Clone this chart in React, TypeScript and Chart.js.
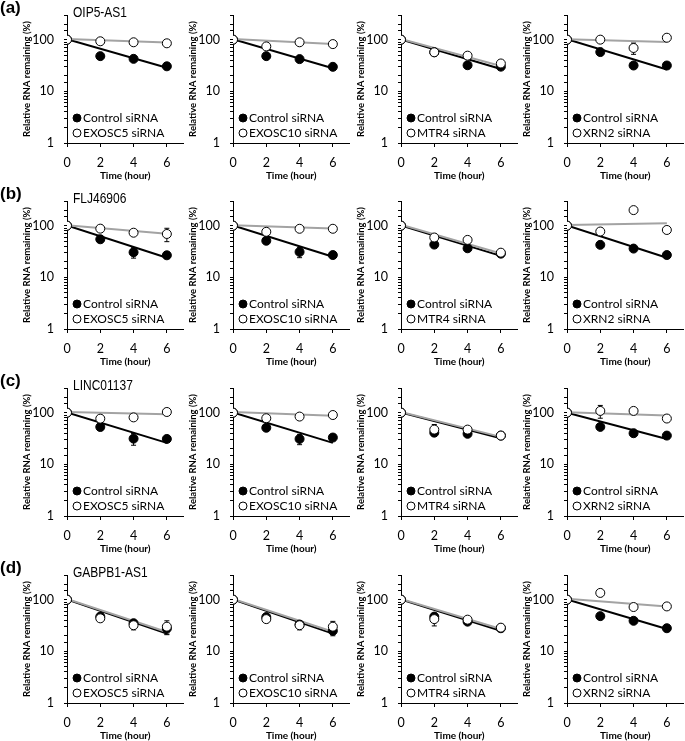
import React, { useEffect, useRef } from "react";
import { Chart, registerables } from "chart.js";

Chart.register(...registerables);

// ---------- data ----------
const timePoints = [0, 2, 4, 6];
const fitTimes = [0, 6];
const panelLetters = ["(a)", "(b)", "(c)", "(d)"];
const geneNames = ["OIP5-AS1", "FLJ46906", "LINC01137", "GABPB1-AS1"];
const knockdownLabels = ["EXOSC5 siRNA", "EXOSC10 siRNA", "MTR4 siRNA", "XRN2 siRNA"];
const controlLabel = "Control siRNA";
const yTickLabels = [1, 10, 100];
const xTickLabels = [0, 2, 4, 6];
const yAxisTitle = "Relative RNA remaining (%)";
const xAxisTitle = "Time (hour)";

// (a) OIP5-AS1 — one row per knockdown column
const oip5Control = [[100, 48, 42.5, 30.5], [100, 48, 42, 29.8], [100, 57, 32, 30], [100, 57.5, 31.6, 31.6]];
const oip5Knockdown = [[100, 93, 89, 85], [100, 74, 89, 82], [100, 57, 49, 34.6], [100, 100, 69, 109]];
const oip5ControlErr = [[0, 0, 0, 0], [0, 0, 0, 0], [0, 0, 0, 0], [0, 0, 0, 0]];
const oip5KnockdownErr = [[0, 0, 0, 0], [0, 0, 0, 0], [0, 0, 0, 0], [0, 0, 17, 0]];
const oip5ControlFit = [[102, 28.5], [102, 28], [101, 27], [102, 26.5]];
const oip5KnockdownFit = [[103, 88], [103, 82], [103, 31], [102, 90]];

// (b) FLJ46906
const fljControl = [[100, 54.5, 30.5, 26.7], [100, 51, 31, 27], [100, 43, 36.5, 28.7], [100, 42.5, 36, 27]];
const fljKnockdown = [[100, 87.5, 73, 69], [100, 76, 87, 87], [100, 59, 53, 30], [100, 77, 200, 82.5]];
const fljControlErr = [[0, 0, 7, 0], [0, 0, 7, 0], [0, 0, 0, 0], [0, 0, 0, 0]];
const fljKnockdownErr = [[0, 0, 0, 20], [0, 0, 0, 0], [0, 10, 0, 0], [0, 0, 0, 0]];
const fljControlFit = [[101, 24], [101, 25], [101, 26], [101, 24]];
const fljKnockdownFit = [[102, 70], [102, 88], [104, 29], [103, 111]];

// (c) LINC01137
const lincControl = [[100, 52.8, 31.4, 31], [100, 51, 31, 33], [100, 41, 39, 36], [100, 53, 40, 36]];
const lincKnockdown = [[100, 76.5, 81, 103], [100, 78, 84, 90], [100, 47, 47, 36], [100, 108, 108, 77]];
const lincControlErr = [[0, 0, 8, 0], [0, 0, 7, 0], [0, 0, 0, 0], [0, 0, 0, 0]];
const lincKnockdownErr = [[0, 0, 0, 0], [0, 0, 0, 0], [0, 12, 0, 0], [0, 30, 0, 0]];
const lincControlFit = [[101, 26], [101, 26], [101, 32], [100, 31]];
const lincKnockdownFit = [[103, 93], [103, 87], [103, 34], [102, 88]];

// (d) GABPB1-AS1
const gabpControl = [[100, 47, 35, 27.6], [100, 46, 33, 25], [100, 47, 37.5, 28], [100, 48, 39, 28]];
const gabpKnockdown = [[100, 43.5, 32, 30], [100, 42, 32, 30], [100, 42, 41, 28.7], [100, 135, 72, 74]];
const gabpControlErr = [[0, 0, 0, 6], [0, 0, 0, 5], [0, 0, 0, 0], [0, 0, 0, 0]];
const gabpKnockdownErr = [[0, 0, 6, 9], [0, 0, 6, 8], [0, 11, 0, 0], [0, 0, 0, 0]];
const gabpControlFit = [[101, 22], [101, 22], [101, 25], [101, 27]];
const gabpKnockdownFit = [[103, 23.7], [103, 24], [103, 27], [104, 74]];

const rowControl = [oip5Control, fljControl, lincControl, gabpControl];
const rowKnockdown = [oip5Knockdown, fljKnockdown, lincKnockdown, gabpKnockdown];
const rowControlErr = [oip5ControlErr, fljControlErr, lincControlErr, gabpControlErr];
const rowKnockdownErr = [oip5KnockdownErr, fljKnockdownErr, lincKnockdownErr, gabpKnockdownErr];
const rowControlFit = [oip5ControlFit, fljControlFit, lincControlFit, gabpControlFit];
const rowKnockdownFit = [oip5KnockdownFit, fljKnockdownFit, lincKnockdownFit, gabpKnockdownFit];

// ---------- layout ----------
const CHART_LEFTS = [67, 233, 401, 567];
const CHART_TOPS = [15, 201, 388, 575];
const Y_AXIS_W = 52;
const X_AXIS_H = 40;
const PAD_TOP = 6;
const PAD_RIGHT = 4;
const PLOT_W = 118;
const PLOT_H = 128;
const CANVAS_W = Y_AXIS_W + PLOT_W + PAD_RIGHT;
const CANVAS_H = PAD_TOP + PLOT_H + X_AXIS_H;
const AXIS_FONT = "Lato, 'Open Sans', sans-serif";

const errorBarPlugin = {
  id: "errorBars",
  beforeDatasetsDraw(chart: any) {
    const { ctx, scales } = chart;
    ctx.save();
    ctx.strokeStyle = "#000";
    ctx.lineWidth = 1;
    chart.data.datasets.forEach((ds: any) => {
      if (!ds.errors) return;
      ds.data.forEach((p: any, i: number) => {
        const e = ds.errors[i];
        if (!e) return;
        const x = scales.x.getPixelForValue(p.x);
        const y1 = scales.y.getPixelForValue(p.y + e);
        const y2 = scales.y.getPixelForValue(Math.max(p.y - e, 1));
        ctx.beginPath();
        ctx.moveTo(x, y1);
        ctx.lineTo(x, y2);
        ctx.moveTo(x - 2.5, y1);
        ctx.lineTo(x + 2.5, y1);
        ctx.moveTo(x - 2.5, y2);
        ctx.lineTo(x + 2.5, y2);
        ctx.stroke();
      });
    });
    ctx.restore();
  },
};

const insetLegendPlugin = {
  id: "insetLegend",
  afterDatasetsDraw(chart: any) {
    const { ctx, chartArea } = chart;
    const ds = chart.data.datasets;
    const items = [
      { label: ds[1].label, fill: "#000", off: 25 },
      { label: ds[0].label, fill: "#fff", off: 10 },
    ];
    ctx.save();
    ctx.font = `12px ${AXIS_FONT}`;
    items.forEach((it) => {
      const x = chartArea.left + 10;
      const y = chartArea.bottom - it.off;
      ctx.beginPath();
      ctx.arc(x, y, 4, 0, Math.PI * 2);
      ctx.fillStyle = it.fill;
      ctx.fill();
      ctx.lineWidth = 1;
      ctx.strokeStyle = "#000";
      ctx.stroke();
      ctx.fillStyle = "#000";
      ctx.textAlign = "left";
      ctx.textBaseline = "middle";
      ctx.fillText(it.label, x + 6, y + 0.5);
    });
    ctx.restore();
  },
};

type PanelProps = {
  left: number;
  top: number;
  control: number[];
  knockdown: number[];
  controlErr: number[];
  knockdownErr: number[];
  controlFit: number[];
  knockdownFit: number[];
  kdLabel: string;
};

function Panel(p: PanelProps) {
  const ref = useRef<HTMLCanvasElement>(null);
  useEffect(() => {
    if (!ref.current) return;
    const chart = new Chart(ref.current, {
      type: "scatter",
      data: {
        datasets: [
          {
            label: p.kdLabel,
            data: timePoints.map((t, i) => ({ x: t, y: p.knockdown[i] })),
            pointRadius: 4.5,
            backgroundColor: "#fff",
            borderColor: "#000",
            borderWidth: 1,
            errors: p.knockdownErr,
          } as any,
          {
            label: controlLabel,
            data: timePoints.map((t, i) => ({ x: t, y: p.control[i] })),
            pointRadius: 4.5,
            backgroundColor: "#000",
            borderColor: "#000",
            borderWidth: 1,
            errors: p.controlErr,
          } as any,
          {
            label: "kd fit",
            data: fitTimes.map((t, i) => ({ x: t, y: p.knockdownFit[i] })),
            showLine: true,
            pointRadius: 0,
            borderColor: "#a3a3a3",
            borderWidth: 2,
          },
          {
            label: "control fit",
            data: fitTimes.map((t, i) => ({ x: t, y: p.controlFit[i] })),
            showLine: true,
            pointRadius: 0,
            borderColor: "#000",
            borderWidth: 2,
          },
        ],
      },
      options: {
        animation: false,
        responsive: false,
        devicePixelRatio: 1,
        events: [],
        layout: { padding: { top: PAD_TOP, right: PAD_RIGHT, left: 0, bottom: 0 } },
        plugins: { legend: { display: false }, tooltip: { enabled: false } },
        scales: {
          x: {
            type: "linear",
            min: 0,
            max: 7,
            afterBuildTicks: (s: any) => {
              s.ticks = xTickLabels.map((v) => ({ value: v }));
            },
            afterFit: (s: any) => {
              s.height = X_AXIS_H;
              s.paddingLeft = 0;
              s.paddingRight = 0;
            },
            ticks: {
              autoSkip: false,
              maxRotation: 0,
              padding: 8,
              color: "#000",
              font: { family: AXIS_FONT, size: 12.5 },
            },
            grid: { display: true, drawOnChartArea: false, drawTicks: true, tickLength: 4, color: "#000" },
            border: { color: "#000", width: 1 },
            title: {
              display: true,
              text: xAxisTitle,
              color: "#000",
              font: { family: AXIS_FONT, size: 10, weight: "bold" },
              padding: { top: 0, bottom: 1 },
            },
          },
          y: {
            type: "logarithmic",
            min: 1,
            max: 300,
            afterFit: (s: any) => {
              s.width = Y_AXIS_W;
              s.paddingTop = 0;
              s.paddingBottom = 0;
            },
            ticks: {
              autoSkip: false,
              padding: 10,
              color: "#000",
              font: { family: AXIS_FONT, size: 12.5 },
              callback: (v: any) => (yTickLabels.includes(Number(v)) ? String(v) : ""),
            },
            grid: { display: true, drawOnChartArea: false, drawTicks: true, tickLength: 3, color: "#000" },
            border: { color: "#000", width: 1 },
            title: {
              display: true,
              text: yAxisTitle,
              color: "#000",
              font: { family: AXIS_FONT, size: 9.5, weight: "bold" },
              padding: { top: 6, bottom: 0 },
            },
          },
        },
      } as any,
      plugins: [errorBarPlugin, insetLegendPlugin],
    });
    return () => chart.destroy();
  }, []);
  return (
    <canvas
      ref={ref}
      width={CANVAS_W}
      height={CANVAS_H}
      style={{ position: "absolute", left: p.left, top: p.top, width: CANVAS_W, height: CANVAS_H }}
    />
  );
}

export default function App() {
  const panels: React.ReactNode[] = [];
  for (let r = 0; r < 4; r++) {
    for (let c = 0; c < 4; c++) {
      panels.push(
        <Panel
          key={`${r}-${c}`}
          left={CHART_LEFTS[c] - Y_AXIS_W}
          top={CHART_TOPS[r] - PAD_TOP}
          control={rowControl[r][c]}
          knockdown={rowKnockdown[r][c]}
          controlErr={rowControlErr[r][c]}
          knockdownErr={rowKnockdownErr[r][c]}
          controlFit={rowControlFit[r][c]}
          knockdownFit={rowKnockdownFit[r][c]}
          kdLabel={knockdownLabels[c]}
        />
      );
    }
  }
  return (
    <div style={{ position: "absolute", left: 0, top: 0, width: 685, height: 741, background: "#fff", overflow: "hidden" }}>
      {panels}
      {panelLetters.map((l, r) => (
        <div
          key={l}
          style={{
            position: "absolute",
            left: 0,
            top: CHART_TOPS[r] - 17,
            fontFamily: "'Liberation Sans', Arial, sans-serif",
            fontWeight: "bold",
            fontSize: 17,
            lineHeight: "20px",
            color: "#000",
            whiteSpace: "nowrap",
          }}
        >
          {l}
        </div>
      ))}
      {geneNames.map((g, r) => (
        <div
          key={g}
          style={{
            position: "absolute",
            left: 73,
            top: CHART_TOPS[r] - 12,
            fontFamily: "'Liberation Sans', Arial, sans-serif",
            fontSize: 15,
            lineHeight: "18px",
            color: "#000",
            whiteSpace: "nowrap",
            transform: "scaleX(0.8)",
            transformOrigin: "left center",
          }}
        >
          {g}
        </div>
      ))}
    </div>
  );
}
